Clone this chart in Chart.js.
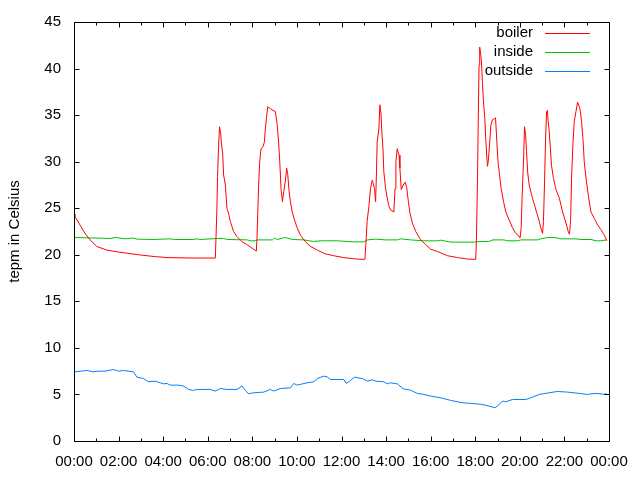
<!DOCTYPE html>
<html>
<head>
<meta charset="utf-8">
<script src="https://cdn.jsdelivr.net/npm/chart.js@4/dist/chart.umd.min.js"></script>
<style>
  html, body { margin: 0; padding: 0; background: #fff; }
  canvas { display: block; }
</style>
</head>
<body>
<canvas id="c" width="640" height="480"></canvas>
<script>
// ---- data (hours of day, temperature in Celsius) ----
const xTickLabels = ['00:00','02:00','04:00','06:00','08:00','10:00','12:00','14:00','16:00','18:00','20:00','22:00','00:00'];
const seriesNames = ['boiler', 'inside', 'outside'];

const boilerHours = [
  0, 0.04, 0.27, 0.49, 0.72, 1.02, 1.47, 1.99, 2.89, 3.64, 4.17, 5.29, 6.34,
  6.41, 6.44, 6.49, 6.53, 6.58, 6.61, 6.67, 6.71, 6.79, 6.86, 6.93, 7.01, 7.09, 7.16, 7.31, 7.54, 7.76, 7.99, 8.18,
  8.21, 8.28, 8.33, 8.39, 8.48, 8.54, 8.58, 8.63, 8.69, 8.81, 8.93, 9.03, 9.11, 9.18, 9.23, 9.29, 9.35, 9.41, 9.48,
  9.54, 9.59, 9.65, 9.71, 9.79, 9.89, 10.01, 10.16, 10.38, 10.61, 10.91, 11.28, 11.65, 12.1, 12.55, 13.0, 13.05,
  13.11, 13.15, 13.23, 13.3, 13.38, 13.42, 13.48, 13.53, 13.57, 13.6, 13.68, 13.72, 13.77, 13.81, 13.86, 13.9, 13.98,
  14.05, 14.13, 14.2, 14.35, 14.4, 14.44, 14.5, 14.58, 14.62, 14.68, 14.77, 14.85, 14.92, 15.0, 15.07, 15.18, 15.33,
  15.55, 15.78, 16.0, 16.3, 16.75, 17.2, 17.65, 18.02,
  18.05, 18.1, 18.13, 18.17, 18.2, 18.25, 18.28, 18.32, 18.37, 18.43, 18.47, 18.52, 18.55, 18.59, 18.64, 18.7, 18.77,
  18.85, 18.91, 18.97, 19.02, 19.09, 19.15, 19.27, 19.37, 19.52, 19.67, 19.82, 19.92, 20.01,
  20.06, 20.1, 20.17, 20.21, 20.26, 20.3, 20.35, 20.42, 20.53, 20.64, 20.76, 20.87, 20.94, 21.02,
  21.06, 21.11, 21.15, 21.2, 21.24, 21.27, 21.32, 21.36, 21.42, 21.51, 21.62, 21.77, 21.92, 22.07, 22.17, 22.23,
  22.28, 22.32, 22.38, 22.44, 22.52, 22.59, 22.67, 22.71, 22.77, 22.83, 22.89, 22.97, 23.07, 23.19, 23.34, 23.49, 23.64, 23.79, 23.9
];
const boilerTemps = [
  24.4, 24.1, 23.2, 22.3, 21.6, 20.9, 20.5, 20.3, 20.0, 19.8, 19.7, 19.65, 19.65,
  24.8, 28.4, 32.0, 33.75, 33.0, 32.0, 30.9, 28.6, 27.5, 25.0, 24.5, 23.6, 23.0, 22.5, 21.96, 21.4, 21.1, 20.7, 20.4,
  21.8, 27.3, 30.0, 31.4, 31.6, 32.1, 33.4, 34.6, 35.9, 35.7, 35.5, 35.4, 34.1, 32.1, 30.0, 27.0, 25.7, 26.8, 27.9,
  29.3, 28.6, 26.8, 25.7, 24.6, 23.75, 22.9, 22.1, 21.4, 20.9, 20.5, 20.1, 19.9, 19.7, 19.57, 19.5, 19.5,
  21.8, 23.6, 25.2, 27.1, 28.0, 27.7, 27.1, 25.7, 28.9, 32.1, 33.6, 36.1, 35.2, 33.2, 31.4, 28.9, 27.1,
  26.1, 25.2, 24.8, 24.6, 27.1, 30.0, 31.4, 30.7, 29.3, 27.0, 27.5, 27.8, 27.3, 25.7, 24.5, 23.4, 22.5,
  21.6, 21.1, 20.6, 20.36, 19.9, 19.7, 19.54, 19.5,
  21.4, 27.9, 33.6, 40.4, 42.3, 41.4, 40.7, 38.6, 36.4, 34.6, 32.5, 30.4, 29.5, 30.2, 31.8, 33.9, 34.5,
  34.6, 34.7, 32.1, 30.0, 28.6, 27.3, 25.7, 24.6, 23.75, 22.9, 22.3, 22.1, 21.8,
  22.9, 26.1, 30.4, 33.75, 32.9, 31.1, 28.9, 27.5, 26.4, 25.5, 24.5, 23.6, 22.9, 22.3,
  23.6, 27.9, 32.1, 35.4, 35.5, 34.3, 33.2, 31.8, 29.6, 28.2, 27.0, 26.1, 24.6, 23.4, 22.5, 22.2,
  23.9, 28.2, 31.8, 34.3, 35.4, 36.4, 35.9, 35.5, 34.3, 32.5, 30.0, 28.2, 26.4, 24.6, 23.9, 23.2, 22.7, 22.1, 21.5
];

const insideHours = [
  0, 1.62, 1.84, 2.29, 2.65, 2.83, 3.55, 4.31, 4.54, 5.35, 5.53, 5.66, 6.43, 6.7, 6.88, 7.78, 7.91, 8.13, 8.22,
  8.9, 8.99, 9.12, 9.48, 9.8, 10.29, 10.74, 11.06, 11.82, 12.49, 12.99, 13.17, 13.53, 13.98, 14.52, 14.65, 15.1,
  15.69, 16.31, 16.45, 16.9, 17.93, 18.25, 18.61, 18.79, 19.28, 19.46, 19.91, 20.04, 20.81, 20.94, 21.26, 21.53,
  21.84, 22.52, 22.74, 23.19, 23.42, 23.64, 23.9
];
const insideTemps = [
  21.86, 21.75, 21.86, 21.71, 21.8, 21.68, 21.64, 21.71, 21.64, 21.64, 21.71, 21.64, 21.75, 21.75, 21.64, 21.6, 21.5, 21.5, 21.6,
  21.6, 21.79, 21.64, 21.86, 21.64, 21.6, 21.43, 21.5, 21.5, 21.39, 21.39, 21.6, 21.68, 21.6, 21.6, 21.71, 21.6,
  21.5, 21.5, 21.57, 21.36, 21.36, 21.43, 21.43, 21.6, 21.6, 21.5, 21.5, 21.6, 21.6, 21.71, 21.86, 21.86,
  21.71, 21.71, 21.64, 21.64, 21.5, 21.5, 21.6
];

const outsideHours = [
  0.04, 0.57, 0.87, 1.08, 1.39, 1.77, 1.99, 2.22, 2.67, 2.82, 3.11, 3.34, 3.64, 3.87, 4.01, 4.17, 4.31, 4.69, 4.91,
  5.14, 5.36, 5.51, 6.11, 6.34, 6.56, 6.86, 7.31, 7.54, 7.69, 7.83, 8.06, 8.51, 8.81, 8.96, 9.26, 9.71, 9.86, 10.01,
  10.46, 10.76, 10.91, 11.2, 11.36, 11.51, 12.1, 12.22, 12.4, 12.58, 12.93, 13.16, 13.38, 13.53, 13.9, 14.05, 14.2,
  14.5, 14.77, 15.1, 15.4, 15.7, 16.0, 16.45, 16.9, 17.42, 17.8, 18.32, 18.62, 18.88, 19.0, 19.22, 19.37, 19.67,
  20.27, 20.49, 20.87, 21.32, 21.69, 22.14, 22.67, 23.04, 23.34, 23.64, 23.79, 23.87
];
const outsideTemps = [
  7.43, 7.57, 7.43, 7.5, 7.5, 7.68, 7.5, 7.57, 7.43, 6.86, 6.71, 6.36, 6.43, 6.25, 6.14, 6.18, 6.0, 6.0, 5.9,
  5.54, 5.43, 5.54, 5.54, 5.36, 5.64, 5.54, 5.54, 5.9, 5.43, 5.07, 5.18, 5.25, 5.54, 5.36, 5.64, 5.71, 6.18, 6.0,
  6.25, 6.36, 6.71, 6.96, 6.89, 6.61, 6.61, 6.18, 6.5, 6.86, 6.71, 6.43, 6.57, 6.43, 6.36, 6.14, 6.25,
  6.14, 5.61, 5.46, 5.11, 5.0, 4.82, 4.64, 4.36, 4.11, 4.04, 3.93, 3.75, 3.57, 3.75, 4.29, 4.21, 4.46,
  4.46, 4.64, 5.0, 5.18, 5.32, 5.25, 5.11, 5.0, 5.11, 5.07, 5.0, 5.14
];

const seriesColors = ['#ff0000', '#00c000', '#0080ff'];

function pairs(xs, ys) { return xs.map((x, i) => ({ x: x, y: ys[i] })); }

const FONT = '"Liberation Sans", Arial, sans-serif';

const gnuplotFrame = {
  id: 'gnuplotFrame',
  afterDatasetsDraw(chart) {
    const ctx = chart.ctx;
    const a = chart.chartArea;
    const xs = chart.scales.x, ys = chart.scales.y;
    const L = Math.round(a.left) + 0.5, R = Math.round(a.right) + 0.5;
    const T = Math.round(a.top) + 0.5, B = Math.round(a.bottom) + 0.5;
    ctx.save();
    ctx.strokeStyle = '#000';
    ctx.lineWidth = 1;
    ctx.beginPath();
    ctx.rect(L, T, R - L, B - T);
    // x ticks: major every 2h, minor every hour, mirrored on top
    for (let h = 0; h <= 24; h++) {
      const px = Math.round(xs.getPixelForValue(h)) + 0.5;
      const len = (h % 2 === 0) ? 5 : 3;
      ctx.moveTo(px, B); ctx.lineTo(px, B - len);
      ctx.moveTo(px, T); ctx.lineTo(px, T + len);
    }
    // y ticks every 5, mirrored on right
    for (let v = 0; v <= 45; v += 5) {
      const py = Math.round(ys.getPixelForValue(v)) + 0.5;
      ctx.moveTo(L, py); ctx.lineTo(L + 5, py);
      ctx.moveTo(R, py); ctx.lineTo(R - 5, py);
    }
    ctx.stroke();

    // gnuplot style key: right-aligned text, sample line to the right
    ctx.font = '15px ' + FONT;
    ctx.textAlign = 'right';
    ctx.textBaseline = 'middle';
    chart.data.datasets.forEach((ds, i) => {
      const y = 33 + i * 19;
      ctx.fillStyle = '#000';
      ctx.fillText(ds.label, 533, y);
      ctx.strokeStyle = ds.borderColor;
      ctx.beginPath();
      ctx.moveTo(545, Math.round(y) + 0.5);
      ctx.lineTo(590, Math.round(y) + 0.5);
      ctx.stroke();
    });
    ctx.restore();
  }
};

new Chart(document.getElementById('c'), {
  type: 'line',
  data: {
    datasets: [
      { label: seriesNames[0], data: pairs(boilerHours, boilerTemps), borderColor: seriesColors[0] },
      { label: seriesNames[1], data: pairs(insideHours, insideTemps), borderColor: seriesColors[1] },
      { label: seriesNames[2], data: pairs(outsideHours, outsideTemps), borderColor: seriesColors[2] }
    ]
  },
  options: {
    responsive: false,
    animation: false,
    devicePixelRatio: 1,
    layout: { padding: { top: 21, right: 31, left: 0, bottom: 0 } },
    elements: {
      line: { borderWidth: 1, tension: 0, fill: false },
      point: { radius: 0, hoverRadius: 0 }
    },
    plugins: { legend: { display: false }, tooltip: { enabled: false } },
    scales: {
      x: {
        type: 'linear', min: 0, max: 24,
        grid: { display: false, drawTicks: false },
        border: { display: false },
        afterFit: s => { s.height = 39; },
        ticks: {
          stepSize: 2, padding: 12, color: '#000', maxRotation: 0, autoSkip: false,
          font: { family: FONT, size: 15 },
          callback: v => xTickLabels[Math.round(v / 2)]
        }
      },
      y: {
        type: 'linear', min: 0, max: 45,
        grid: { display: false, drawTicks: false },
        border: { display: false },
        afterFit: s => { s.width = 74; },
        ticks: { stepSize: 5, padding: 13, color: '#000', font: { family: FONT, size: 15 } },
        title: {
          display: true, text: 'tepm in Celsius', color: '#000',
          font: { family: FONT, size: 15 }, padding: { top: 6, bottom: 0 }
        }
      }
    }
  },
  plugins: [gnuplotFrame]
});
</script>
</body>
</html>
